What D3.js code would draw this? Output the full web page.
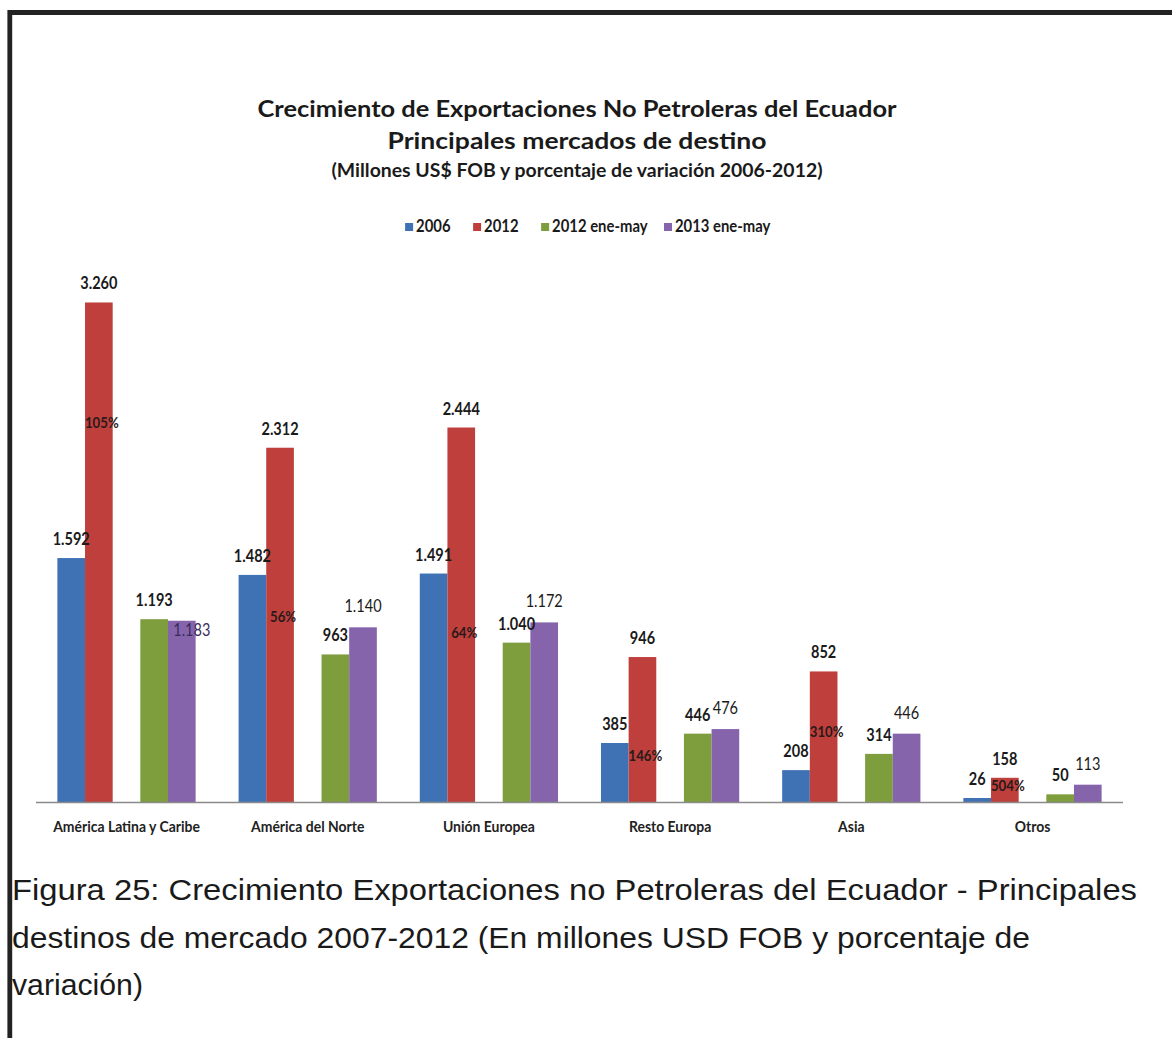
<!DOCTYPE html>
<html>
<head>
<meta charset="utf-8">
<script src="https://cdn.jsdelivr.net/npm/d3@7"></script>
<style>
  body { margin: 0; background: #fff; }
  svg { display: block; }
</style>
</head>
<body>
<div id="chart"></div>
<script>
// ---- datos (millones US$ FOB) ----
const categories = ["América Latina y Caribe", "América del Norte", "Unión Europea", "Resto Europa", "Asia", "Otros"];
const seriesNames = ["2006", "2012", "2012 ene-may", "2013 ene-may"];
const exp2006 = [1592, 1482, 1491, 385, 208, 26];
const exp2012 = [3260, 2312, 2444, 946, 852, 158];
const exp2012EneMay = [1193, 963, 1040, 446, 314, 50];
const exp2013EneMay = [1183, 1140, 1172, 476, 446, 113];
const pctLabels = ["105%", "56%", "64%", "146%", "310%", "504%"];
const pctAt = [2440, 1175, 1070, 268, 424, 72]; // valor (eje y) donde va el % sobre la barra 2012

const titleLines = [
  "Crecimiento de Exportaciones No Petroleras del Ecuador",
  "Principales mercados de destino",
  "(Millones US$ FOB y porcentaje de variación 2006-2012)"
];
const captionLines = [
  "Figura 25: Crecimiento Exportaciones no Petroleras del Ecuador - Principales",
  "destinos de mercado 2007-2012 (En millones USD FOB y porcentaje de",
  "variación)"
];

var colors = ["#3f72b4", "#be3f3b", "#7e9d3d", "#8564ac"];
var seriesValues = [exp2006, exp2012, exp2012EneMay, exp2013EneMay];

const W = 1172, H = 1038;
const chartFont = "Lato, 'Open Sans', sans-serif";

// formato con punto de miles
var fmt = d3.formatLocale({ decimal: ",", thousands: ".", grouping: [3], currency: ["", ""] }).format(",d");

// estrecha el texto (imita Calibri) manteniendo el tamaño
function condense(selection, k) {
  selection.each(function() {
    var w = this.getComputedTextLength();
    d3.select(this).attr("textLength", w * k).attr("lengthAdjust", "spacingAndGlyphs");
  });
}

var svg = d3.select("#chart").append("svg")
  .attr("width", W)
  .attr("height", H);

svg.append("rect").attr("width", W).attr("height", H).attr("fill", "#fff");

// marco negro (arriba e izquierda)
svg.append("path")
  .attr("d", "M9.8," + H + " V12.5 H" + W)
  .attr("fill", "none")
  .attr("stroke", "#222")
  .attr("stroke-width", 4.8);

// ---- titulos ----
var titleSpec = [
  { y: 117, size: 23.5, len: 639 },
  { y: 149, size: 22.5, len: 379 },
  { y: 177, size: 18, len: 491 }
];
svg.selectAll("text.title")
  .data(titleLines)
  .enter()
  .append("text")
  .attr("class", "title")
  .attr("x", 577)
  .attr("y", (d, i) => titleSpec[i].y)
  .attr("text-anchor", "middle")
  .attr("font-family", chartFont)
  .attr("font-weight", "bold")
  .attr("font-size", (d, i) => titleSpec[i].size)
  .attr("textLength", (d, i) => titleSpec[i].len)
  .attr("lengthAdjust", "spacingAndGlyphs")
  .attr("fill", "#1a1a1a")
  .text(d => d);

// ---- escalas ----
const baseY = 802;
var x0 = d3.scaleBand()
  .domain(categories)
  .range([36, 1123])
  .paddingInner(0.237)
  .paddingOuter(0.118);

// cinco huecos por grupo, el del medio vacio
var slots = ["2006", "2012", "_", "2012 ene-may", "2013 ene-may"];
var x1 = d3.scaleBand()
  .domain(slots)
  .range([0, x0.bandwidth()]);

var y = d3.scaleLinear()
  .domain([0, 3500])
  .range([baseY, 265.7]);

var rows = categories.map((c, i) => ({
  cat: c,
  idx: i,
  values: seriesNames.map((s, j) => ({ key: s, j: j, value: seriesValues[j][i], cat: c, idx: i }))
}));

var groups = svg.selectAll("g.group")
  .data(rows)
  .enter()
  .append("g")
  .attr("class", "group")
  .attr("transform", d => "translate(" + x0(d.cat) + ",0)");

groups.selectAll("rect")
  .data(d => d.values)
  .enter()
  .append("rect")
  .attr("x", d => x1(d.key))
  .attr("y", d => y(d.value))
  .attr("width", x1.bandwidth())
  .attr("height", d => baseY - y(d.value))
  .attr("fill", d => colors[d.j]);

// eje x
svg.append("line")
  .attr("x1", 36).attr("x2", 1123)
  .attr("y1", baseY + 0.5).attr("y2", baseY + 0.5)
  .attr("stroke", "#8a8a8a")
  .attr("stroke-width", 1.5);

var xAxis = svg.append("g")
  .attr("transform", "translate(0," + baseY + ")")
  .call(d3.axisBottom(x0).tickSize(0).tickPadding(19));
xAxis.select(".domain").remove();
xAxis.selectAll("text")
  .attr("font-family", chartFont)
  .attr("font-weight", "bold")
  .attr("font-size", 15.5)
  .attr("fill", "#222")
  .call(condense, 0.9);

// ---- etiquetas de valor ----
groups.selectAll("text.val")
  .data(d => d.values)
  .enter()
  .append("text")
  .attr("class", "val")
  .attr("x", d => {
    var cx = x1(d.key) + x1.bandwidth() / 2;
    if (d.j === 3 && d.idx === 0) return cx + 10; // 1.183 va dentro, a la derecha
    return cx;
  })
  .attr("y", d => {
    if (d.j === 3 && d.idx === 0) return y(d.value) + 15;
    return y(d.value) - (d.j === 3 ? 15 : 13);
  })
  .attr("text-anchor", "middle")
  .attr("font-family", chartFont)
  .attr("font-weight", d => d.j === 3 ? "normal" : "bold")
  .attr("font-size", 16.5)
  .attr("fill", d => (d.j === 3 && d.idx === 0) ? "#3a2b5c" : "#1a1a1a")
  .text(d => fmt(d.value))
  .call(condense, 0.88);

// porcentajes de variacion 2006-2012 sobre la barra roja
groups.append("text")
  .attr("class", "pct")
  .attr("x", x1("2012") + x1.bandwidth() / 2 + 3)
  .attr("y", d => y(pctAt[d.idx]))
  .attr("text-anchor", "middle")
  .attr("font-family", chartFont)
  .attr("font-weight", "bold")
  .attr("font-size", 15.5)
  .attr("fill", "#2a1a1a")
  .text(d => pctLabels[d.idx])
  .call(condense, 0.85);

// ---- leyenda ----
var legend = svg.append("g").attr("class", "legend");
var lx = 0;
seriesNames.forEach((s, i) => {
  var item = legend.append("g").attr("transform", "translate(" + lx + ",0)");
  item.append("rect")
    .attr("x", 0).attr("y", -9)
    .attr("width", 8).attr("height", 8)
    .attr("fill", colors[i]);
  var t = item.append("text")
    .attr("x", 11)
    .attr("y", 0)
    .attr("font-family", chartFont)
    .attr("font-weight", "bold")
    .attr("font-size", 16.5)
    .attr("fill", "#1a1a1a")
    .text(s)
    .call(condense, 0.9);
  lx += 11 + t.node().getComputedTextLength() * 0.9 + 26;
});
var legW = lx - 26;
legend.attr("transform", "translate(" + (583 - legW / 2) + ",232)");

// ---- pie de figura ----
var capSpec = [{ y: 900, len: 1125 }, { y: 948, len: 1018 }, { y: 995, len: 131 }];
svg.selectAll("text.caption")
  .data(captionLines)
  .enter()
  .append("text")
  .attr("class", "caption")
  .attr("x", 12)
  .attr("y", (d, i) => capSpec[i].y)
  .attr("font-family", "'Liberation Sans', Arial, sans-serif")
  .attr("font-size", 30)
  .attr("fill", "#1a1a1a")
  .attr("textLength", (d, i) => capSpec[i].len)
  .attr("lengthAdjust", "spacingAndGlyphs")
  .text(d => d);
</script>
</body>
</html>
